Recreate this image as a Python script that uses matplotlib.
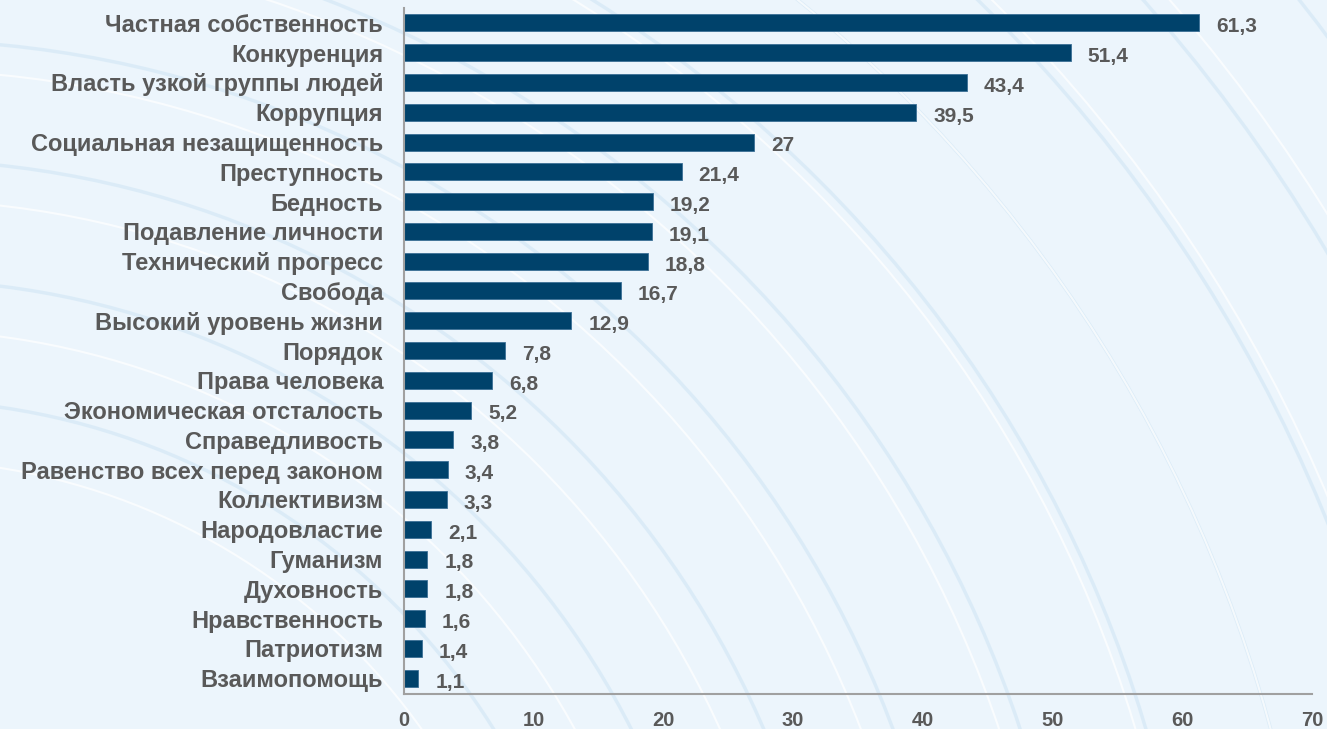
import numpy as np
import matplotlib.pyplot as plt
from matplotlib.patches import Circle

categories = ['Частная собственность', 'Конкуренция', 'Власть узкой группы людей',
              'Коррупция', 'Социальная незащищенность', 'Преступность', 'Бедность',
              'Подавление личности', 'Технический прогресс', 'Свобода',
              'Высокий уровень жизни', 'Порядок', 'Права человека',
              'Экономическая отсталость', 'Справедливость',
              'Равенство всех перед законом', 'Коллективизм', 'Народовластие',
              'Гуманизм', 'Духовность', 'Нравственность', 'Патриотизм', 'Взаимопомощь']
values = [61.3, 51.4, 43.4, 39.5, 27, 21.4, 19.2, 19.1, 18.8, 16.7, 12.9, 7.8, 6.8,
          5.2, 3.8, 3.4, 3.3, 2.1, 1.8, 1.8, 1.6, 1.4, 1.1]
xticks = [0, 10, 20, 30, 40, 50, 60, 70]

plt.rcParams['font.family'] = ['Liberation Sans', 'DejaVu Sans']
txt = '#595959'

fig = plt.figure(figsize=(13.27, 7.29), dpi=100)
fig.patch.set_facecolor('#ecf5fc')

# фон: светлые дуги
bg = fig.add_axes([0, 0, 1, 1], zorder=0)
bg.set_xlim(0, 1327)
bg.set_ylim(729, 0)
bg.axis('off')
for r in range(700, 2000, 120):
    bg.add_patch(Circle((-100, 1100), r, fill=False, ec='#d4e8f6', lw=2.5, alpha=0.7))
for r in range(640, 1900, 130):
    bg.add_patch(Circle((-100, 1100), r, fill=False, ec='#ffffff', lw=1.5, alpha=0.7))

ax = fig.add_axes([404/1327, 1-694/729, (1312-404)/1327, (694-8)/729], zorder=1)
ax.patch.set_alpha(0)
y = np.arange(len(categories))
ax.barh(y, values, height=0.57, color='#00426b', edgecolor='#3b6f96', linewidth=0.6)
for yi, v in zip(y, values):
    lab = ('%g' % v).replace('.', ',')
    ax.text(v + 1.3, yi + 0.13, lab, va='center', ha='left', fontsize=15,
            fontweight='bold', color=txt)

ax.set_ylim(len(categories) - 0.47, -0.5)
ax.set_xlim(0, 70)
ax.set_yticks(y)
ax.set_yticklabels(categories, fontsize=17, fontweight='bold', color=txt)
ax.set_xticks(xticks)
ax.set_xticklabels([str(t) for t in xticks], fontsize=14.5, fontweight='bold', color=txt)
ax.tick_params(length=0)
ax.tick_params(axis='y', pad=15)
ax.tick_params(axis='x', pad=12)
for s in ['top', 'right']:
    ax.spines[s].set_visible(False)
for s in ['left', 'bottom']:
    ax.spines[s].set_color('#a0a0a0')
    ax.spines[s].set_linewidth(1.5)

fig.savefig('out.png', dpi=100, facecolor=fig.get_facecolor())
